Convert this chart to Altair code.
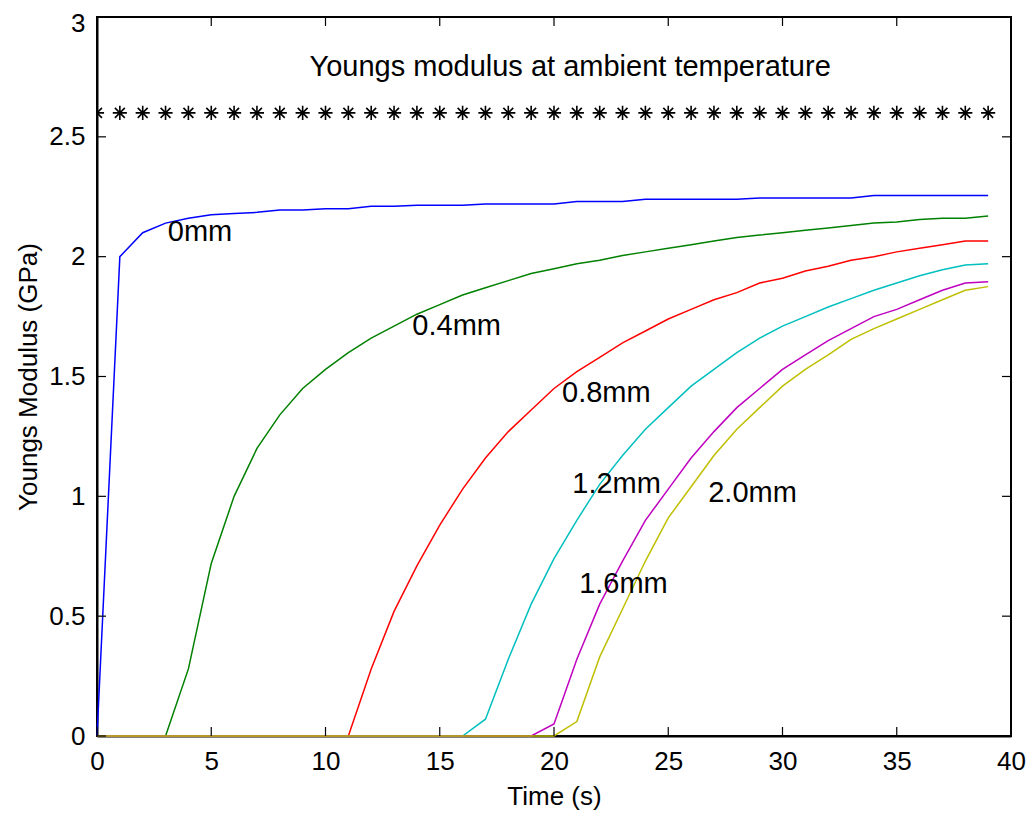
import altair as alt
import pandas as pd

# ---- data ----
time_s = list(range(0, 40))

mod_0mm = [0, 2.00, 2.10, 2.14, 2.16, 2.175, 2.18, 2.185, 2.195, 2.195,
           2.20, 2.20, 2.21, 2.21, 2.215, 2.215, 2.215, 2.22, 2.22, 2.22,
           2.22, 2.23, 2.23, 2.23, 2.24, 2.24, 2.24, 2.24, 2.24, 2.245,
           2.245, 2.245, 2.245, 2.245, 2.255, 2.255, 2.255, 2.255, 2.255, 2.255]
mod_04mm = [0, 0, 0, 0, 0.28, 0.72, 1.00, 1.20, 1.34, 1.45,
            1.53, 1.60, 1.66, 1.71, 1.76, 1.80, 1.84, 1.87, 1.90, 1.93,
            1.95, 1.97, 1.985, 2.005, 2.02, 2.035, 2.05, 2.065, 2.08, 2.09,
            2.10, 2.11, 2.12, 2.13, 2.14, 2.145, 2.155, 2.16, 2.16, 2.17]
mod_08mm = [0, 0, 0, 0, 0, 0, 0, 0, 0, 0,
            0, 0, 0.28, 0.52, 0.71, 0.88, 1.03, 1.16, 1.27, 1.36,
            1.45, 1.52, 1.58, 1.64, 1.69, 1.74, 1.78, 1.82, 1.85, 1.89,
            1.91, 1.94, 1.96, 1.985, 2.00, 2.02, 2.035, 2.05, 2.065, 2.065]
mod_12mm = [0, 0, 0, 0, 0, 0, 0, 0, 0, 0,
            0, 0, 0, 0, 0, 0, 0, 0.07, 0.32, 0.55,
            0.74, 0.90, 1.05, 1.17, 1.28, 1.37, 1.46, 1.53, 1.60, 1.66,
            1.71, 1.75, 1.79, 1.825, 1.86, 1.89, 1.92, 1.945, 1.965, 1.97]
mod_16mm = [0, 0, 0, 0, 0, 0, 0, 0, 0, 0,
            0, 0, 0, 0, 0, 0, 0, 0, 0, 0,
            0.05, 0.32, 0.55, 0.73, 0.90, 1.03, 1.16, 1.27, 1.37, 1.45,
            1.53, 1.59, 1.65, 1.70, 1.75, 1.78, 1.82, 1.86, 1.89, 1.895]
mod_20mm = [0, 0, 0, 0, 0, 0, 0, 0, 0, 0,
            0, 0, 0, 0, 0, 0, 0, 0, 0, 0,
            0, 0.06, 0.33, 0.53, 0.73, 0.91, 1.04, 1.17, 1.28, 1.37,
            1.46, 1.53, 1.59, 1.655, 1.70, 1.74, 1.78, 1.82, 1.86, 1.875]
ambient_value = 2.6

series_names = ["0mm", "0.4mm", "0.8mm", "1.2mm", "1.6mm", "2.0mm"]
series_colors = ["#0000FF", "#008000", "#FF0000", "#00BFBF", "#BF00BF", "#BFBF00"]
series_values = [mod_0mm, mod_04mm, mod_08mm, mod_12mm, mod_16mm, mod_20mm]

label_text = ["0mm", "0.4mm", "0.8mm", "1.2mm", "1.6mm", "2.0mm",
              "Youngs modulus at ambient temperature"]
label_x = [3.1, 13.8, 20.35, 20.8, 21.1, 26.75, 9.3]
label_y = [2.105, 1.71, 1.43, 1.053, 0.633, 1.015, 2.79]

x_ticks = [0, 5, 10, 15, 20, 25, 30, 35, 40]
y_ticks = [0, 0.5, 1, 1.5, 2, 2.5, 3]

# ---- tables ----
rows = []
for i, (name, vals) in enumerate(zip(series_names, series_values)):
    for t, v in zip(time_s, vals):
        rows.append({"t": t, "E": v, "series": name, "order": i})
lines_df = pd.DataFrame(rows)
stars_df = pd.DataFrame({"t": time_s, "E": [ambient_value] * len(time_s)})
labels_df = pd.DataFrame({"text": label_text, "t": label_x, "E": label_y})
xt_df = pd.DataFrame({"t": x_ticks})
yt_df = pd.DataFrame({"E": y_ticks})

W, H = 914, 719
FONT = "Liberation Sans"

xscale = alt.Scale(domain=[0, 40], nice=False, zero=False)
yscale = alt.Scale(domain=[0, 3], nice=False, zero=False)
common_axis = dict(ticks=False, grid=False, domain=True, domainColor="black",
                   domainWidth=2, labelFont=FONT, labelFontSize=26, labelColor="black",
                   titleFont=FONT, titleFontSize=26, titleFontWeight="normal",
                   titleColor="black", labelPadding=12, labelFlush=False,
                   labelOverlap=False)
xaxis = alt.Axis(values=x_ticks, format="d", titlePadding=9, **common_axis)
yaxis = alt.Axis(values=y_ticks, format="~g", titlePadding=7,
                 labelOffset={"condition": {"test": "datum.value == 3", "value": 6},
                              "value": 0},
                 **common_axis)
XT = "Time (s)"
YT = "Youngs Modulus (GPa)"

lines = alt.Chart(lines_df).mark_line(strokeWidth=1.5).encode(
    x=alt.X("t:Q", scale=xscale, title=XT, axis=xaxis),
    y=alt.Y("E:Q", scale=yscale, title=YT, axis=yaxis),
    color=alt.Color("series:N", scale=alt.Scale(domain=series_names, range=series_colors),
                    legend=None),
    order=alt.Order("order:Q"),
)

star_path = "M0,-1L0,1M-1,0L1,0M-0.7,-0.7L0.7,0.7M-0.7,0.7L0.7,-0.7"
stars = alt.Chart(stars_df).mark_point(
    shape=star_path, size=200, color="black", strokeWidth=1.6, filled=False,
    clip=True, opacity=1
).encode(x=alt.X("t:Q", title=XT, axis=xaxis), y=alt.Y("E:Q", title=YT, axis=yaxis))

labels = alt.Chart(labels_df).mark_text(
    align="left", baseline="middle", font=FONT, fontSize=29, color="black"
).encode(x=alt.X("t:Q", title=XT, axis=xaxis), y=alt.Y("E:Q", title=YT, axis=yaxis),
         text="text:N")

tick_len = 9
xt_bottom = alt.Chart(xt_df).mark_rule(color="black", strokeWidth=1.2).encode(
    x=alt.X("t:Q", title=XT, axis=xaxis), y=alt.value(H), y2=alt.value(H - tick_len))
xt_top = alt.Chart(xt_df).mark_rule(color="black", strokeWidth=1.2).encode(
    x=alt.X("t:Q", title=XT, axis=xaxis), y=alt.value(0), y2=alt.value(tick_len))
yt_left = alt.Chart(yt_df).mark_rule(color="black", strokeWidth=1.2).encode(
    y=alt.Y("E:Q", title=YT, axis=yaxis), x=alt.value(0), x2=alt.value(tick_len))
yt_right = alt.Chart(yt_df).mark_rule(color="black", strokeWidth=1.2).encode(
    y=alt.Y("E:Q", title=YT, axis=yaxis), x=alt.value(W), x2=alt.value(W - tick_len))

chart = alt.layer(lines, stars, labels, xt_bottom, xt_top, yt_left, yt_right).properties(
    width=W, height=H,
    autosize=alt.AutoSizeParams(type="none"),
    padding={"left": 89, "top": 9, "right": 16, "bottom": 85},
    background="white",
).configure_view(
    stroke="#000000", strokeWidth=2, strokeOpacity=1
)

chart.save("out.html", embed_options={"renderer": "svg", "actions": False})
